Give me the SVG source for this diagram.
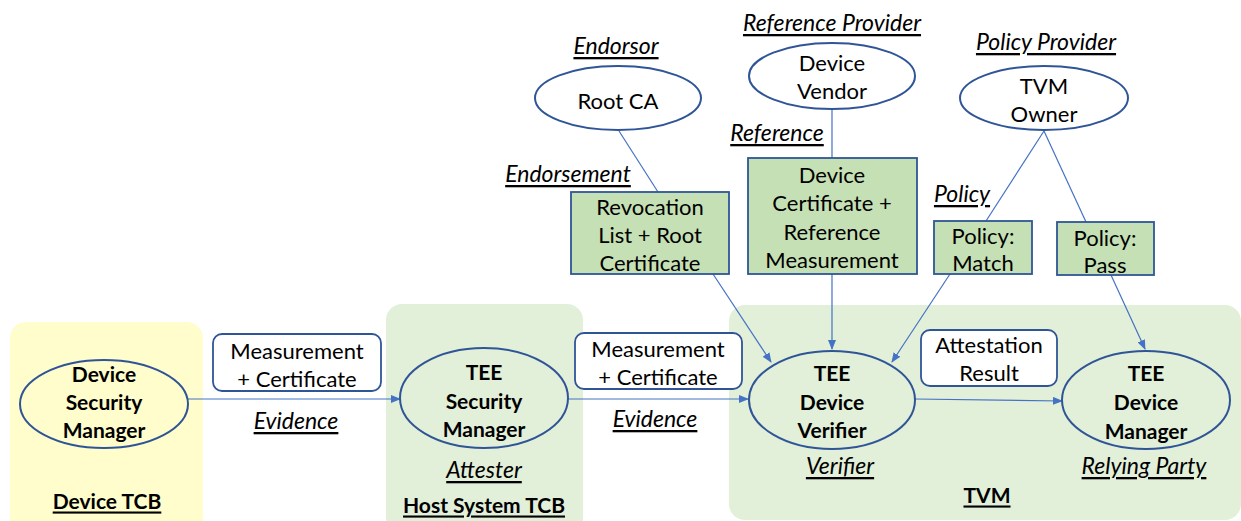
<svg xmlns="http://www.w3.org/2000/svg" width="1241" height="521" viewBox="0 0 1241 521">
<defs>
<marker id="ah" markerWidth="10" markerHeight="8" refX="9" refY="4" orient="auto" markerUnits="userSpaceOnUse">
<path d="M0,0 L10,4 L0,8 z" fill="#4472c4"/>
</marker>
<style>
text{font-family:Lato,"Open Sans","Liberation Sans",sans-serif;font-size:22px;fill:#000;text-anchor:middle;dominant-baseline:central}
.b{font-weight:bold;font-size:21px}
.i{font-style:italic;text-decoration:underline;font-size:23px}
.u{text-decoration:underline}
.ell{fill:none;stroke:#2f5597;stroke-width:2}
.box{fill:#fff;stroke:#2f5597;stroke-width:1.8}
.gbox{fill:#c5e0b4;stroke:#2f5597;stroke-width:1.8}
.ln{stroke:#4472c4;stroke-width:1.2;fill:none}
.ar{stroke:#4472c4;stroke-width:1.2;fill:none;marker-end:url(#ah)}
</style>
</defs>
<rect width="1241" height="521" fill="#fff"/>

<g id="zone-device-tcb">
<rect x="10" y="322" width="193" height="215" rx="16" fill="#fffdcb"/>
<text x="107" y="500" class="b u">Device TCB</text>
</g>
<g id="zone-host-tcb">
<rect x="386" y="304" width="197" height="230" rx="16" fill="#e2efd9"/>
<text x="484" y="504" class="b u">Host System TCB</text>
</g>
<g id="zone-tvm">
<rect x="729" y="305" width="512" height="215" rx="16" fill="#e2efd9"/>
<text x="987" y="494" class="b u">TVM</text>
</g>

<g id="connectors">
<line x1="188" y1="399" x2="400" y2="399" class="ar"/>
<line x1="568" y1="399" x2="748" y2="399" class="ar"/>
<line x1="915" y1="399" x2="1062" y2="401" class="ar"/>
<line x1="619" y1="131" x2="658" y2="192" class="ln"/>
<line x1="713" y1="274" x2="771" y2="362" class="ar"/>
<line x1="832" y1="108" x2="832" y2="158" class="ln"/>
<line x1="832" y1="274" x2="832" y2="349" class="ar"/>
<line x1="1044" y1="131" x2="986" y2="221" class="ln"/>
<line x1="1044" y1="131" x2="1086" y2="222" class="ln"/>
<line x1="950" y1="274" x2="892" y2="362" class="ar"/>
<line x1="1111" y1="275" x2="1145" y2="349" class="ar"/>
<text x="296" y="420" class="i">Evidence</text>
<text x="655" y="418" class="i">Evidence</text>
</g>

<g id="device-security-manager">
<ellipse cx="104" cy="404" rx="84" ry="44" class="ell"/>
<text x="104" y="373" class="b">Device</text>
<text x="104" y="401" class="b">Security</text>
<text x="104" y="429" class="b">Manager</text>
</g>

<g id="evidence-1">
<rect x="213" y="334" width="168" height="57" rx="9" class="box"/>
<text x="297" y="350">Measurement</text>
<text x="297" y="378">+ Certificate</text>
</g>

<g id="tee-security-manager">
<ellipse cx="484" cy="398" rx="84" ry="50" class="ell"/>
<text x="484" y="371" class="b">TEE</text>
<text x="484" y="400" class="b">Security</text>
<text x="484" y="428" class="b">Manager</text>
<text x="484" y="469" class="i">Attester</text>
</g>

<g id="evidence-2">
<rect x="575" y="333" width="167" height="56" rx="9" class="box"/>
<text x="658" y="348">Measurement</text>
<text x="658" y="376">+ Certificate</text>
</g>

<g id="tee-device-verifier">
<ellipse cx="832" cy="400" rx="83" ry="49" class="ell"/>
<text x="832" y="372" class="b">TEE</text>
<text x="832" y="401" class="b">Device</text>
<text x="832" y="429" class="b">Verifier</text>
<text x="840" y="465" class="i">Verifier</text>
</g>

<g id="attestation-result">
<rect x="921" y="330" width="136" height="56" rx="9" class="box"/>
<text x="989" y="344">Attestation</text>
<text x="989" y="372">Result</text>
</g>

<g id="tee-device-manager">
<ellipse cx="1146" cy="400" rx="84" ry="49" class="ell"/>
<text x="1146" y="372" class="b">TEE</text>
<text x="1146" y="401" class="b">Device</text>
<text x="1146" y="430" class="b">Manager</text>
<text x="1144" y="465" class="i">Relying Party</text>
</g>

<g id="root-ca">
<text x="616" y="45" class="i">Endorsor</text>
<ellipse cx="618" cy="98" rx="83" ry="32" class="ell"/>
<text x="618" y="100">Root CA</text>
</g>

<g id="device-vendor">
<text x="832" y="22" class="i">Reference Provider</text>
<ellipse cx="832" cy="76" rx="83" ry="33" class="ell"/>
<text x="832" y="62">Device</text>
<text x="832" y="90">Vendor</text>
</g>

<g id="tvm-owner">
<text x="1046" y="41" class="i">Policy Provider</text>
<ellipse cx="1044" cy="98" rx="84" ry="32" class="ell"/>
<text x="1044" y="85">TVM</text>
<text x="1044" y="113">Owner</text>
</g>

<g id="revocation-list">
<text x="568" y="173" class="i">Endorsement</text>
<rect x="571" y="192" width="158" height="82" class="gbox"/>
<text x="650" y="206">Revocation</text>
<text x="650" y="234">List + Root</text>
<text x="650" y="262">Certificate</text>
</g>

<g id="reference-measurement">
<text x="777" y="132" class="i">Reference</text>
<rect x="748" y="158" width="169" height="116" class="gbox"/>
<text x="832" y="174">Device</text>
<text x="832" y="202">Certificate +</text>
<text x="832" y="231">Reference</text>
<text x="832" y="259">Measurement</text>
</g>

<g id="policy-match">
<text x="962" y="193" class="i">Policy</text>
<rect x="934" y="221" width="98" height="53" class="gbox"/>
<text x="983" y="235">Policy:</text>
<text x="983" y="262">Match</text>
</g>

<g id="policy-pass">
<rect x="1057" y="222" width="97" height="53" class="gbox"/>
<text x="1105" y="237">Policy:</text>
<text x="1105" y="264">Pass</text>
</g>
</svg>
